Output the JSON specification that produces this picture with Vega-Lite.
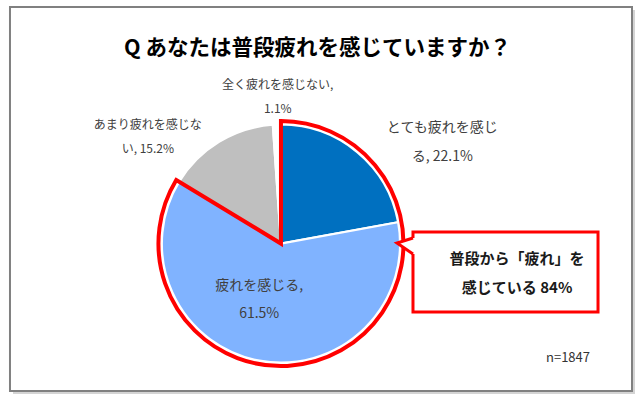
{
  "$schema": "https://vega.github.io/schema/vega-lite/v6.json",
  "width": 640,
  "height": 398,
  "autosize": "none",
  "padding": 0,
  "background": "#ffffff",
  "config": {
    "view": {"stroke": null},
    "axis": {"disable": true},
    "legend": {"disable": true},
    "text": {"font": "Noto Sans CJK JP"}
  },
  "data": {
    "values": [
      {"category": "とても疲れを感じる", "percent": 22.1, "order": 1, "label": "とても疲れを感じ\nる, 22.1%"},
      {"category": "疲れを感じる", "percent": 61.5, "order": 2, "label": "疲れを感じる,\n61.5%"},
      {"category": "あまり疲れを感じない", "percent": 15.2, "order": 3, "label": "あまり疲れを感じな\nい, 15.2%"},
      {"category": "全く疲れを感じない", "percent": 1.1, "order": 4, "label": "全く疲れを感じない,\n1.1%"}
    ]
  },
  "layer": [
    {
      "data": {"values": [{}]},
      "mark": {"type": "rect", "fill": "#d4d4d4"},
      "encoding": {
        "x": {"datum": 2.03, "type": "quantitative", "scale": {"domain": [0, 100]}},
        "x2": {"datum": 99.22},
        "y": {"datum": 2.51, "type": "quantitative", "scale": {"domain": [0, 100], "reverse": true}},
        "y2": {"datum": 98.99}
      }
    },
    {
      "data": {"values": [{}]},
      "mark": {"type": "rect", "fill": "#ffffff", "stroke": "#808080", "strokeWidth": 2},
      "encoding": {
        "x": {"datum": 1.56, "type": "quantitative", "scale": {"domain": [0, 100]}},
        "x2": {"datum": 98.75},
        "y": {"datum": 1.76, "type": "quantitative", "scale": {"domain": [0, 100], "reverse": true}},
        "y2": {"datum": 98.24}
      }
    },
    {
      "data": {"values": [{}]},
      "mark": {"type": "text", "text": "Q あなたは普段疲れを感じていますか？", "fontSize": 21.5, "fontWeight": "bold", "color": "#000000", "align": "center", "baseline": "middle"},
      "encoding": {
        "x": {"datum": 49.6, "type": "quantitative", "scale": {"domain": [0, 100]}},
        "y": {"datum": 12.3, "type": "quantitative", "scale": {"domain": [0, 100], "reverse": true}}
      }
    },
    {
      "mark": {"type": "arc", "outerRadius": 119, "stroke": "#ffffff", "strokeWidth": 2},
      "encoding": {
        "theta": {"field": "percent", "type": "quantitative", "stack": true},
        "order": {"field": "order", "type": "quantitative"},
        "color": {
          "field": "category",
          "type": "nominal",
          "legend": null,
          "scale": {
            "domain": ["とても疲れを感じる", "疲れを感じる", "あまり疲れを感じない", "全く疲れを感じない"],
            "range": ["#0070c0", "#80b3ff", "#bfbfbf", "#ffffff"]
          }
        },
        "x": {"datum": 43.9, "type": "quantitative", "scale": {"domain": [0, 100]}},
        "y": {"datum": 61.2, "type": "quantitative", "scale": {"domain": [0, 100], "reverse": true}}
      }
    },
    {
      "transform": [
        {"filter": "datum.order <= 2"},
        {"aggregate": [{"op": "sum", "field": "percent", "as": "total"}]}
      ],
      "mark": {"type": "arc", "outerRadius": 122.5, "fill": "#ffffff", "fillOpacity": 0, "stroke": "#ff0000", "strokeWidth": 4, "strokeJoin": "miter"},
      "encoding": {
        "theta": {"field": "total", "type": "quantitative", "stack": true},
        "x": {"datum": 43.9, "type": "quantitative", "scale": {"domain": [0, 100]}},
        "y": {"datum": 61.2, "type": "quantitative", "scale": {"domain": [0, 100], "reverse": true}}
      }
    },
    {
      "transform": [{"filter": "datum.order == 4"}],
      "mark": {"type": "text", "fontSize": 12, "color": "#404040", "align": "center", "baseline": "middle", "lineBreak": "\n", "lineHeight": 24},
      "encoding": {
        "text": {"field": "label", "type": "nominal"},
        "x": {"datum": 43.4, "type": "quantitative", "scale": {"domain": [0, 100]}},
        "y": {"datum": 21.36, "type": "quantitative", "scale": {"domain": [0, 100], "reverse": true}}
      }
    },
    {
      "transform": [{"filter": "datum.order == 1"}],
      "mark": {"type": "text", "fontSize": 14, "color": "#404040", "align": "center", "baseline": "middle", "lineBreak": "\n", "lineHeight": 29},
      "encoding": {
        "text": {"field": "label", "type": "nominal"},
        "x": {"datum": 69.1, "type": "quantitative", "scale": {"domain": [0, 100]}},
        "y": {"datum": 32.16, "type": "quantitative", "scale": {"domain": [0, 100], "reverse": true}}
      }
    },
    {
      "transform": [{"filter": "datum.order == 3"}],
      "mark": {"type": "text", "fontSize": 12, "color": "#404040", "align": "center", "baseline": "middle", "lineBreak": "\n", "lineHeight": 24},
      "encoding": {
        "text": {"field": "label", "type": "nominal"},
        "x": {"datum": 23.1, "type": "quantitative", "scale": {"domain": [0, 100]}},
        "y": {"datum": 31.4, "type": "quantitative", "scale": {"domain": [0, 100], "reverse": true}}
      }
    },
    {
      "transform": [{"filter": "datum.order == 2"}],
      "mark": {"type": "text", "fontSize": 14, "color": "#404040", "align": "center", "baseline": "middle", "lineBreak": "\n", "lineHeight": 28},
      "encoding": {
        "text": {"field": "label", "type": "nominal"},
        "x": {"datum": 40.5, "type": "quantitative", "scale": {"domain": [0, 100]}},
        "y": {"datum": 71.86, "type": "quantitative", "scale": {"domain": [0, 100], "reverse": true}}
      }
    },
    {
      "data": {"values": [{}]},
      "mark": {"type": "rect", "fill": "#ffffff", "stroke": "#ff0000", "strokeWidth": 3, "strokeJoin": "miter"},
      "encoding": {
        "x": {"datum": 64.53, "type": "quantitative", "scale": {"domain": [0, 100]}},
        "x2": {"datum": 93.44},
        "y": {"datum": 58.29, "type": "quantitative", "scale": {"domain": [0, 100], "reverse": true}},
        "y2": {"datum": 78.39}
      }
    },
    {
      "data": {"values": [{}]},
      "mark": {"type": "point", "shape": "M -1 -0.375 L 1 -1 L 1.35 -1 L 1.35 1 L 1 1 Z", "size": 256, "filled": true, "fill": "#ffffff", "strokeWidth": 0, "opacity": 1},
      "encoding": {
        "x": {"datum": 63.28, "type": "quantitative", "scale": {"domain": [0, 100]}},
        "y": {"datum": 61.81, "type": "quantitative", "scale": {"domain": [0, 100], "reverse": true}}
      }
    },
    {
      "data": {"values": [{}]},
      "mark": {"type": "point", "shape": "M 1 -1 L -1 -0.375 L 1 1", "size": 256, "filled": false, "stroke": "#ff0000", "strokeWidth": 3, "strokeJoin": "miter", "opacity": 1},
      "encoding": {
        "x": {"datum": 63.28, "type": "quantitative", "scale": {"domain": [0, 100]}},
        "y": {"datum": 61.81, "type": "quantitative", "scale": {"domain": [0, 100], "reverse": true}}
      }
    },
    {
      "data": {"values": [{}]},
      "mark": {"type": "text", "text": ["普段から「疲れ」を", "感じている 84%"], "fontSize": 15, "fontWeight": "bold", "color": "#1a1a1a", "align": "center", "baseline": "middle", "lineHeight": 29},
      "encoding": {
        "x": {"datum": 80.8, "type": "quantitative", "scale": {"domain": [0, 100]}},
        "y": {"datum": 65.08, "type": "quantitative", "scale": {"domain": [0, 100], "reverse": true}}
      }
    },
    {
      "data": {"values": [{}]},
      "mark": {"type": "text", "text": "n=1847", "fontSize": 13, "color": "#333333", "align": "center", "baseline": "middle"},
      "encoding": {
        "x": {"datum": 88.75, "type": "quantitative", "scale": {"domain": [0, 100]}},
        "y": {"datum": 89.95, "type": "quantitative", "scale": {"domain": [0, 100], "reverse": true}}
      }
    }
  ]
}
